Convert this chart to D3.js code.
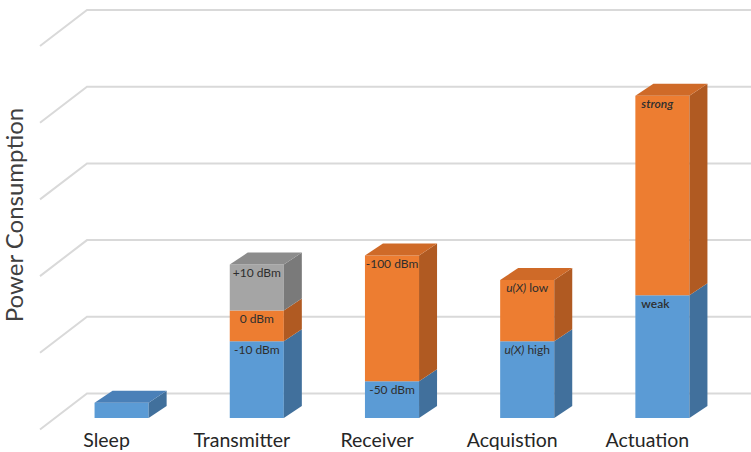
<!DOCTYPE html>
<html>
<head>
<meta charset="utf-8">
<script src="https://cdn.jsdelivr.net/npm/d3@7"></script>
<style>
  html, body { margin: 0; padding: 0; background: #fff; }
  svg { display: block; }
</style>
</head>
<body>
<svg id="chart" width="751" height="452"></svg>
<script>
// Categories and stacked series (power consumption, arbitrary units)
const categories = ["Sleep", "Transmitter", "Receiver", "Acquistion", "Actuation"];
const lowerValues  = [0.2, 1.0, 0.48, 1.0, 1.6];
const middleValues = [0,   0.4, 1.64, 0.8, 2.6];
const upperValues  = [0,   0.6, 0,    0,   0];

// Labels printed inside each segment
const lowerLabels  = ["", "-10 dBm", "-50 dBm", "u(X) high", "weak"];
const middleLabels = ["", "0 dBm", "-100 dBm", "u(X) low", "strong"];
const upperLabels  = ["", "+10 dBm", "", "", ""];

// Gridline values on the back wall
const gridTicks = [0, 1, 2, 3, 4, 5];

const seriesKeys = ["lower", "middle", "upper"];
const seriesLabels = { lower: lowerLabels, middle: middleLabels, upper: upperLabels };
const rows = categories.map((c, i) => ({
  category: c, lower: lowerValues[i], middle: middleValues[i], upper: upperValues[i]
}));

// Face colours: front, side, top
const palette = {
  lower:  { front: "#5b9bd5", side: "#41709c", top: "#4a80b8" },
  middle: { front: "#ed7d31", side: "#b05a22", top: "#cf6a28" },
  upper:  { front: "#a5a5a5", side: "#7a7a7a", top: "#8c8c8c" }
};

const svg = d3.select("#chart");
const W = 751, H = 452;

// Back-wall scale; bars stand in front of the wall, shifted down by floorShift
const y = d3.scaleLinear().domain([0, 5]).range([393.5, 10]);
const floorShift = 24.5;
const x = d3.scaleBand().domain(categories).range([54, 730]).padding(0);
const barW = x.bandwidth() * 0.4;
const depth = { dx: 18, dy: -12 };     // bar depth in projection
const wall = { left: 87, dx: -47, dy: 36 }; // side-floor diagonal

// Gridlines on the back wall with their diagonal on the side wall
const grid = svg.append("g").attr("stroke", "#d9d9d9").attr("stroke-width", 2).attr("fill", "none");
gridTicks.forEach(t => {
  const yy = y(t);
  grid.append("path")
    .attr("d", d3.line()([[wall.left + wall.dx, yy + wall.dy], [wall.left, yy], [W, yy]]));
});

// Stacked 3D bars
const stack = d3.stack().keys(seriesKeys)(rows);
const bars = svg.append("g");
const poly = pts => "M" + pts.map(p => p.join(",")).join("L") + "Z";

categories.forEach((cat, i) => {
  const cx = x(cat) + x.bandwidth() / 2;
  const x0 = cx - barW / 2, x1 = cx + barW / 2;
  const g = bars.append("g");
  // find the topmost non-empty segment
  let topKey = null;
  seriesKeys.forEach((k, si) => { if (stack[si][i][1] - stack[si][i][0] > 0) topKey = k; });
  seriesKeys.forEach((k, si) => {
    const [v0, v1] = stack[si][i];
    if (v1 - v0 <= 0) return;
    const yb = y(v0) + floorShift, yt = y(v1) + floorShift;
    const c = palette[k];
    g.append("path").attr("fill", c.front)
      .attr("d", poly([[x0, yt], [x1, yt], [x1, yb], [x0, yb]]));
    g.append("path").attr("fill", c.side)
      .attr("d", poly([[x1, yt], [x1 + depth.dx, yt + depth.dy], [x1 + depth.dx, yb + depth.dy], [x1, yb]]));
    if (k === topKey) {
      g.append("path").attr("fill", c.top)
        .attr("d", poly([[x0, yt], [x0 + depth.dx, yt + depth.dy], [x1 + depth.dx, yt + depth.dy], [x1, yt]]));
    }
    const label = seriesLabels[k][i];
    if (label) {
      const leftAligned = cat === "Actuation";
      const t = g.append("text")
        .attr("x", leftAligned ? x0 + 6 : cx)
        .attr("y", yt + 12.5)
        .attr("text-anchor", leftAligned ? "start" : "middle")
        .attr("font-family", "Lato, 'Open Sans', sans-serif")
        .attr("font-size", 12)
        .attr("fill", "#2e2e2e");
      if (label.startsWith("u(X)")) {
        t.append("tspan").attr("font-style", "italic").text("u(X)");
        t.append("tspan").text(label.slice(4));
      } else if (label === "strong") {
        t.attr("font-style", "italic").attr("font-weight", 600).text(label);
      } else if (label === "weak") {
        t.attr("font-weight", 600).text(label);
      } else {
        t.text(label);
      }
    }
  });
});

// Category labels along the floor
svg.append("g").selectAll("text").data(categories).join("text")
  .attr("x", d => x(d) + x.bandwidth() / 2 - 15)
  .attr("y", 447)
  .attr("text-anchor", "middle")
  .attr("font-family", "Lato, 'Open Sans', sans-serif")
  .attr("font-size", 19.5)
  .attr("fill", "#262626")
  .text(d => d);

// Axis title
svg.append("text")
  .attr("transform", "translate(23,215) rotate(-90)")
  .attr("text-anchor", "middle")
  .attr("font-family", "Lato, 'Open Sans', sans-serif")
  .attr("font-size", 24)
  .attr("fill", "#404040")
  .text("Power Consumption");
</script>
</body>
</html>
